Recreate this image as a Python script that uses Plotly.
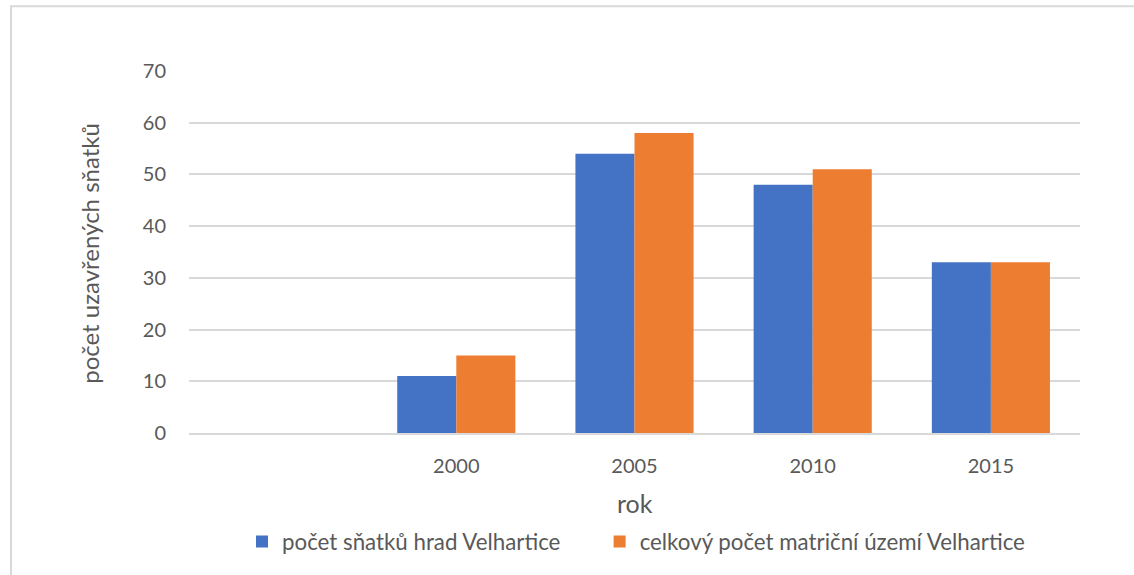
import plotly.graph_objects as go

categories = [" ", "2000", "2005", "2010", "2015"]
hrad = [None, 11, 54, 48, 33]
celkem = [None, 15, 58, 51, 33]
series_names = ["počet sňatků hrad Velhartice", "celkový počet matriční území Velhartice"]
y_ticks = [0, 10, 20, 30, 40, 50, 60, 70]
x_title = "rok"
y_title = "počet uzavřených sňatků"

FONT = "Lato, Carlito, Calibri, sans-serif"
GRAY = "#595959"
PAD = "\u00a0" * 6

fig = go.Figure()
fig.add_trace(go.Bar(x=categories, y=hrad, name=series_names[0] + PAD, marker_color="#4472C4",
                     marker_line_width=0))
fig.add_trace(go.Bar(x=categories, y=celkem, name=series_names[1], marker_color="#ED7D31",
                     marker_line_width=0))

W, H = 1134, 575
L, R, T, B = 189, 54, 71, 140
pw, ph = W - L - R, H - T - B
bottom_px = T + ph


def px_x(x):
    return (x - L) / pw


def px_y(y):
    return (bottom_px - y) / ph


fig.update_layout(
    width=W, height=H,
    margin=dict(l=L, r=R, t=T, b=B),
    paper_bgcolor="white", plot_bgcolor="white",
    barmode="group", bargap=0.337, bargroupgap=0,
    font=dict(family=FONT, color=GRAY, size=20),
    showlegend=True,
    legend=dict(orientation="h", x=px_x(636), xanchor="center", y=px_y(544), yanchor="middle",
                font=dict(size=22.3, color=GRAY), tracegroupgap=0),
    xaxis=dict(
        type="category", categoryorder="array", categoryarray=categories,
        showgrid=False, showline=True, linecolor="#d9d9d9", linewidth=1.5,
        ticks="outside", ticklen=14, tickcolor="rgba(0,0,0,0)",
        tickfont=dict(size=20, color=GRAY),
    ),
    yaxis=dict(
        range=[0, 70], tickvals=y_ticks, showgrid=True, gridcolor="#d9d9d9", gridwidth=1.5,
        zeroline=False, showline=False,
        ticks="outside", ticklen=18, tickcolor="rgba(0,0,0,0)",
        tickfont=dict(size=20, color=GRAY),
    ),
    annotations=[
        dict(text=x_title, xref="paper", yref="paper", x=0.5, y=px_y(505),
             xanchor="center", yanchor="middle", showarrow=False,
             font=dict(size=25, color=GRAY)),
        dict(text=y_title, xref="paper", yref="paper", x=px_x(90), y=0.495,
             xanchor="center", yanchor="middle", showarrow=False, textangle=-90,
             font=dict(size=24, color=GRAY)),
    ],
    shapes=[dict(type="rect", xref="paper", yref="paper",
                 x0=px_x(11), x1=px_x(1145),
                 y0=px_y(590), y1=px_y(6),
                 line=dict(color="#d9d9d9", width=2), layer="below")],
)

fig.write_html("out.html", post_script="document.body.style.margin='0';",
               config={"displayModeBar": False})
